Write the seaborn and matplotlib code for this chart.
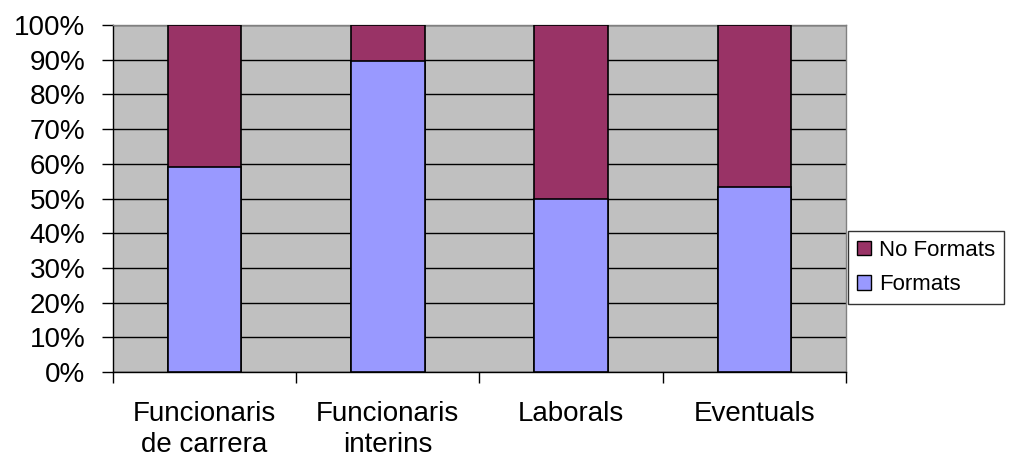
import numpy as np
import pandas as pd
import seaborn as sns
import matplotlib.pyplot as plt
from matplotlib.patches import Patch

categories = ["Funcionaris\nde carrera", "Funcionaris\ninterins", "Laborals", "Eventuals"]
formats = [59.2, 89.7, 49.9, 53.4]
no_formats = [100 - v for v in formats]
y_ticks = list(range(0, 101, 10))

color_formats = "#9999FF"
color_no = "#993366"

df = pd.DataFrame({"cat": categories, "formats": formats,
                   "total": [f + n for f, n in zip(formats, no_formats)]})

sns.set_style("ticks")
plt.rcParams['font.family'] = ['Liberation Sans', 'DejaVu Sans']
plt.rcParams['text.color'] = "black"
plt.rcParams['xtick.color'] = "black"
plt.rcParams['ytick.color'] = "black"

fig = plt.figure(figsize=(10.15, 4.63), dpi=100)
ax = fig.add_axes([0.1113, 0.1965, 0.7222, 0.7495])
ax.set_facecolor("#C0C0C0")

# stacked bars: total first, formats on top of it
sns.barplot(data=df, x="cat", y="total", color=color_no, width=0.4,
            edgecolor="black", linewidth=1.2, saturation=1, ax=ax, zorder=3)
sns.barplot(data=df, x="cat", y="formats", color=color_formats, width=0.4,
            edgecolor="black", linewidth=1.2, saturation=1, ax=ax, zorder=4)

ax.set_xlim(-0.5, 3.5)
ax.set_ylim(0, 100)
ax.set_yticks(y_ticks)
ax.set_yticklabels([f"{t}%" for t in y_ticks], fontsize=20)
ax.yaxis.grid(True, color="black", linewidth=1.0, zorder=1)
ax.set_axisbelow(True)

ax.set_xticks(range(len(categories)))
ax.set_xticklabels(categories, fontsize=20, linespacing=1.25)
ax.set_xticks(np.arange(-0.5, 4, 1), minor=True)
ax.tick_params(axis="x", which="major", length=0, pad=21)
ax.tick_params(axis="x", which="minor", length=8, width=1, direction="out", color="black")
ax.tick_params(axis="y", left=True, length=8, width=1, direction="out", color="black", pad=12)

ax.set_xlabel("")
ax.set_ylabel("")
for s in ["top", "right"]:
    ax.spines[s].set_visible(True)
    ax.spines[s].set_color("#808080")
    ax.spines[s].set_linewidth(1)
for s in ["left", "bottom"]:
    ax.spines[s].set_color("black")
    ax.spines[s].set_linewidth(1)

handles = [Patch(facecolor=color_no, edgecolor="black", label="No Formats"),
           Patch(facecolor=color_formats, edgecolor="black", label="Formats")]
leg = fig.legend(handles=handles, loc="upper left", bbox_to_anchor=(848 / 1015, 1 - 231 / 463),
                 fontsize=16, frameon=True, fancybox=False, edgecolor="black",
                 handlelength=0.65, handleheight=0.65, handletextpad=0.35,
                 borderpad=0.4, labelspacing=0.6, borderaxespad=0)
leg.get_frame().set_linewidth(1)

fig.savefig("out.png", dpi=100)
